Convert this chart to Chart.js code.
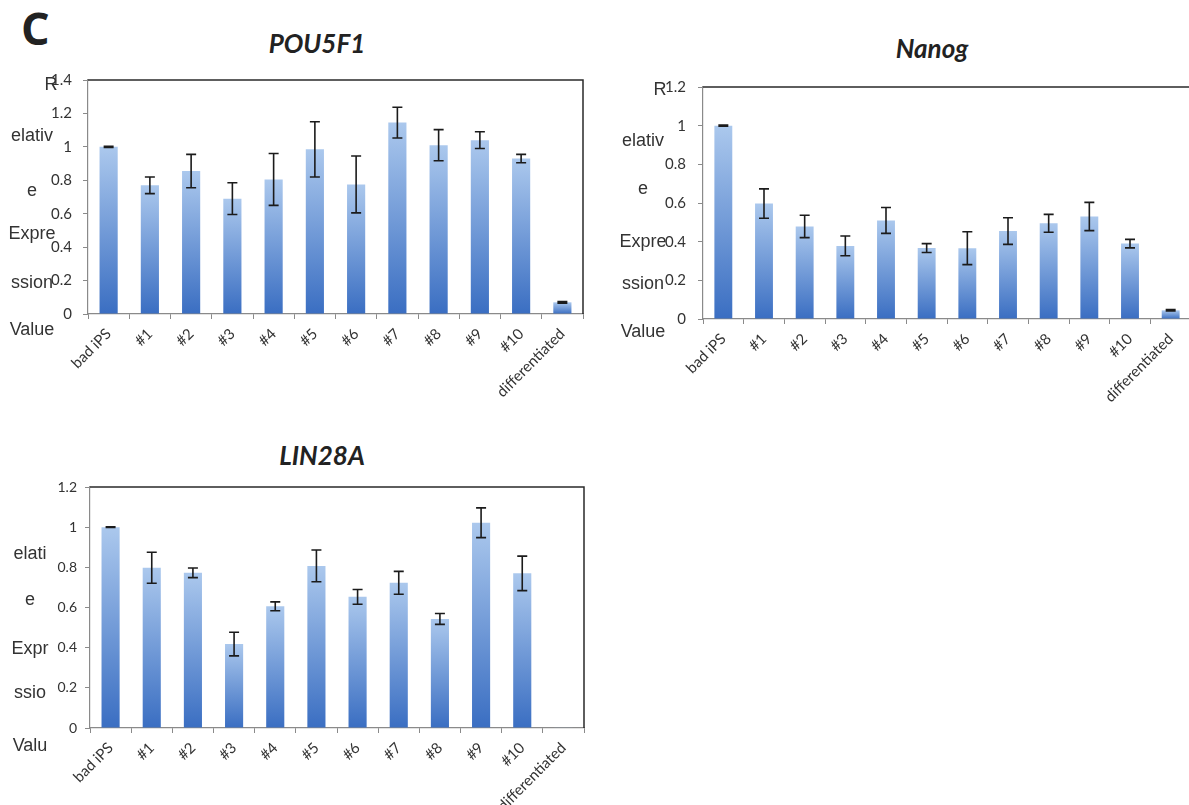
<!DOCTYPE html>
<html>
<head>
<meta charset="utf-8">
<script src="https://cdn.jsdelivr.net/npm/chart.js@4.4.1/dist/chart.umd.min.js"></script>
<style>
  html, body { margin: 0; padding: 0; background: #fff; overflow: hidden; width: 1189px; height: 805px; }
  .box { position: absolute; }
  .frag { position: absolute; font-family: "Liberation Sans", Arial, sans-serif; font-size: 18px; line-height: 1; color: #333; white-space: nowrap; transform: translate(-50%, -50%); }
  .title { position: absolute; font-family: Lato, "Open Sans", sans-serif; font-weight: bold; font-style: italic; font-size: 26px; line-height: 1; color: #222; white-space: nowrap; transform: translate(-50%, -50%); }
</style>
</head>
<body>
<div style="position:absolute;left:21px;top:5px;font-family:'Open Sans',sans-serif;font-weight:bold;font-size:45px;line-height:1;color:#222">C</div>

<div class="title" style="left:317px;top:43px">POU5F1</div>
<div class="title" style="left:932px;top:48px">Nanog</div>
<div class="title" style="left:322px;top:455px">LIN28A</div>

<div class="box" style="left:0;top:70px;width:600px;height:340px"><canvas id="chartPou" width="600" height="340"></canvas></div>
<div class="box" style="left:600px;top:77px;width:600px;height:340px"><canvas id="chartNanog" width="600" height="340"></canvas></div>
<div class="box" style="left:0;top:477px;width:600px;height:328px"><canvas id="chartLin" width="600" height="328"></canvas></div>

<div id="frags"></div>

<script>
// --- DADOS ---
const categorias = ['bad iPS', '#1', '#2', '#3', '#4', '#5', '#6', '#7', '#8', '#9', '#10', 'differentiated'];

const pouValores = [1.00, 0.77, 0.855, 0.69, 0.805, 0.985, 0.775, 1.145, 1.01, 1.04, 0.93, 0.07];
const pouErros   = [0.004, 0.05, 0.10, 0.095, 0.155, 0.165, 0.17, 0.092, 0.093, 0.05, 0.025, 0.005];

const nanogValores = [1.00, 0.597, 0.479, 0.378, 0.51, 0.367, 0.366, 0.455, 0.495, 0.53, 0.39, 0.045];
const nanogErros   = [0.003, 0.076, 0.058, 0.051, 0.067, 0.023, 0.085, 0.069, 0.046, 0.073, 0.022, 0.004];

const linValores = [1.00, 0.798, 0.773, 0.418, 0.606, 0.807, 0.653, 0.723, 0.543, 1.022, 0.77, 0.002];
const linErros   = [0.002, 0.077, 0.024, 0.059, 0.022, 0.079, 0.037, 0.057, 0.027, 0.074, 0.086, 0];

// título do eixo Y quebrado em pedaços (como no original)
const tituloPou = ['R', 'elativ', 'e', 'Expre', 'ssion', 'Value'];
const tituloNanog = ['R', 'elativ', 'e', 'Expre', 'ssion', 'Value'];
const tituloLin = ['elati', 'e', 'Expr', 'ssio', 'Valu'];

// --- PLUGINS ---
const errorBars = {
  id: 'errorBars',
  afterDatasetsDraw(chart) {
    const ds = chart.data.datasets[0];
    const meta = chart.getDatasetMeta(0);
    const y = chart.scales.y;
    const ctx = chart.ctx;
    ctx.save();
    ctx.strokeStyle = '#1b1b1b';
    ctx.lineWidth = 1.6;
    meta.data.forEach((bar, i) => {
      const e = ds.errors[i];
      if (!e) return;
      const v = ds.data[i];
      const yHi = y.getPixelForValue(v + e);
      const yLo = y.getPixelForValue(v - e);
      ctx.beginPath();
      ctx.moveTo(bar.x, yHi); ctx.lineTo(bar.x, yLo);
      ctx.moveTo(bar.x - 5, yHi); ctx.lineTo(bar.x + 5, yHi);
      ctx.moveTo(bar.x - 5, yLo); ctx.lineTo(bar.x + 5, yLo);
      ctx.stroke();
    });
    ctx.restore();
  }
};

const frame = {
  id: 'frame',
  afterDraw(chart) {
    const a = chart.chartArea;
    const ctx = chart.ctx;
    ctx.save();
    ctx.strokeStyle = '#2a2a2a';
    ctx.lineWidth = 1.5;
    ctx.beginPath();
    ctx.moveTo(a.left, a.top); ctx.lineTo(a.right, a.top); ctx.lineTo(a.right, a.bottom);
    ctx.stroke();
    ctx.restore();
  }
};

function barGradient(context) {
  const chart = context.chart;
  const area = chart.chartArea;
  if (!area) return '#6f9ad6';
  const top = chart.scales.y.getPixelForValue(context.raw);
  if (area.bottom - top < 2) return '#8fb2e2';
  const g = chart.ctx.createLinearGradient(0, top, 0, area.bottom);
  g.addColorStop(0, '#abc8ed');
  g.addColorStop(1, '#3a6ec2');
  return g;
}

function createChart(id, valores, erros, yMax, geo) {
  return new Chart(document.getElementById(id), {
    type: 'bar',
    data: {
      labels: categorias,
      datasets: [{
        data: valores,
        errors: erros,
        backgroundColor: barGradient,
        borderWidth: 0,
        barPercentage: 0.44,
        categoryPercentage: 1.0
      }]
    },
    options: {
      responsive: false,
      animation: false,
      events: [],
      layout: { padding: { top: geo.top, right: geo.right, left: 0, bottom: 0 } },
      plugins: { legend: { display: false }, title: { display: false }, tooltip: { enabled: false } },
      scales: {
        x: {
          afterFit: (s) => { s.height = geo.xHeight; },
          grid: { offset: true, drawOnChartArea: false, tickLength: 5, color: '#8a8a8a' },
          border: { color: '#8a8a8a', width: 1.2 },
          ticks: { autoSkip: false, maxRotation: 45, minRotation: 45, padding: 6,
                   color: '#333', font: { family: 'Lato, "Open Sans", sans-serif', size: 15 } }
        },
        y: {
          min: 0, max: yMax,
          afterFit: (s) => { s.width = geo.yWidth; s.paddingTop = 0; s.paddingBottom = 0; },
          grid: { drawOnChartArea: false, tickLength: 5, color: '#8a8a8a' },
          border: { color: '#8a8a8a', width: 1.2 },
          ticks: { stepSize: 0.2, padding: geo.tickPad, color: '#333',
                   callback: (v) => String(+v.toFixed(1)),
                   font: { family: 'Lato, "Open Sans", sans-serif', size: geo.tickSize } }
        }
      }
    },
    plugins: [errorBars, frame]
  });
}

createChart('chartPou', pouValores, pouErros, 1.4,
  { top: 10, right: 17, yWidth: 88, xHeight: 96, tickPad: 11, tickSize: 15 });
createChart('chartNanog', nanogValores, nanogErros, 1.2,
  { top: 10, right: 9, yWidth: 103, xHeight: 98, tickPad: 12, tickSize: 15 });
createChart('chartLin', linValores, linErros, 1.2,
  { top: 10, right: 16, yWidth: 90, xHeight: 77, tickPad: 8, tickSize: 14 });

// pedaços do título do eixo Y
function addFrags(textos, cx, ys, extra) {
  const box = document.getElementById('frags');
  textos.forEach((t, i) => {
    const d = document.createElement('div');
    d.className = 'frag';
    d.textContent = t;
    const x = (extra && extra[i] !== undefined) ? extra[i] : cx;
    d.style.left = x + 'px';
    d.style.top = ys[i] + 'px';
    box.appendChild(d);
  });
}
addFrags(tituloPou, 32, [84, 135, 190, 233, 282, 329], { 0: 51 });
addFrags(tituloNanog, 643, [89, 140, 188, 241, 283, 331], { 0: 660 });
addFrags(tituloLin, 30, [553, 599, 648, 692, 745]);
</script>
</body>
</html>
